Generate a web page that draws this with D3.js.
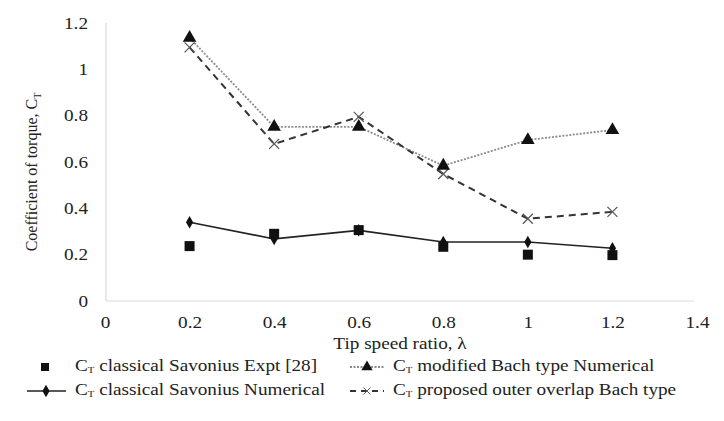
<!DOCTYPE html>
<html><head><meta charset="utf-8">
<script src="https://cdn.jsdelivr.net/npm/d3@7"></script>
<style>body{margin:0;background:#fff}svg{display:block}svg text{font-family:"Liberation Serif","Times New Roman",serif !important;fill:#222}</style>
</head><body><svg id="c" width="724" height="421"></svg>
<script>
const tsr = [0.2, 0.4, 0.6, 0.8, 1.0, 1.2];
const savoniusExpt = [0.237, 0.29, 0.306, 0.234, 0.2, 0.198];
const savoniusNum = [0.34, 0.268, 0.305, 0.255, 0.255, 0.228];
const bachModNum = [1.136, 0.752, 0.752, 0.584, 0.695, 0.738];
const proposedBach = [1.095, 0.678, 0.795, 0.548, 0.355, 0.385];
const xTicks = [0, 0.2, 0.4, 0.6, 0.8, 1, 1.2, 1.4];
const yTicks = [0, 0.2, 0.4, 0.6, 0.8, 1, 1.2];

const svg = d3.select("#c");
const x = d3.scaleLinear().domain([0, 1.4]).range([105, 697]);
const y = d3.scaleLinear().domain([0, 1.2]).range([301, 23]);
const SX = 1.2; // horizontal stretch of the reference's text

// axes
svg.append("line").attr("x1", 106).attr("x2", 106).attr("y1", y(1.2)).attr("y2", y(0)).attr("stroke", "#d9d9d9").attr("stroke-width", 1.2);
svg.append("line").attr("x1", 106).attr("x2", 694).attr("y1", y(0)).attr("y2", y(0)).attr("stroke", "#d9d9d9").attr("stroke-width", 1.2);

const fmt = d => String(+d.toFixed(1));
const ya = svg.append("g").attr("transform", "translate(88,0)").call(d3.axisLeft(y).tickValues(yTicks).tickSize(0).tickPadding(0).tickFormat(fmt));
ya.select(".domain").remove();
ya.selectAll("text").attr("font-size", 16).attr("fill", "#333").attr("transform", `scale(${SX},1)`);

const xa = svg.append("g").attr("transform", "translate(0,317)").call(d3.axisBottom(x).tickValues(xTicks).tickSize(0).tickPadding(0).tickFormat(fmt));
xa.select(".domain").remove();
xa.selectAll("text").attr("font-size", 16).attr("fill", "#333").attr("transform", `scale(${SX},1)`);

// axis titles
svg.append("g").attr("transform", `translate(400,349) scale(${SX},1)`)
  .append("text").attr("text-anchor", "middle").attr("font-size", 16).text("Tip speed ratio, λ");
const yt = svg.append("text").attr("transform", "translate(37,172) rotate(-90)").attr("text-anchor", "middle").attr("font-size", 16);
yt.append("tspan").text("Coefficient of torque, C");
yt.append("tspan").attr("font-size", 10).attr("dy", 4).text("T");

const line = d3.line().x(d => x(d[0])).y(d => y(d[1]));
const pts = arr => tsr.map((t, i) => [t, arr[i]]);

// series lines
svg.append("path").datum(pts(bachModNum)).attr("d", line).attr("fill", "none").attr("stroke", "#8c8c8c").attr("stroke-width", 1.8).attr("stroke-dasharray", "2,1.5");
svg.append("path").datum(pts(proposedBach)).attr("d", line).attr("fill", "none").attr("stroke", "#333").attr("stroke-width", 2).attr("stroke-dasharray", "7,5");
svg.append("path").datum(pts(savoniusNum)).attr("d", line).attr("fill", "none").attr("stroke", "#222").attr("stroke-width", 1.6);

const tri = d3.symbol().type(d3.symbolTriangle).size(80);
const sq = d3.symbol().type(d3.symbolSquare).size(100);
const dia = d3.symbol().type(d3.symbolDiamond).size(45);
const cross = "M-5,-5L5,5M-5,5L5,-5";

svg.selectAll(".px").data(pts(proposedBach)).join("path").attr("transform", d => `translate(${x(d[0])},${y(d[1])})`).attr("d", cross).attr("stroke", "#555").attr("stroke-width", 1.2).attr("fill", "none");
svg.selectAll(".pt").data(pts(bachModNum)).join("path").attr("transform", d => `translate(${x(d[0])},${y(d[1])})`).attr("d", tri).attr("fill", "#111");
svg.selectAll(".pd").data(pts(savoniusNum)).join("path").attr("transform", d => `translate(${x(d[0])},${y(d[1])})`).attr("d", dia).attr("fill", "#111");
svg.selectAll(".ps").data(pts(savoniusExpt)).join("path").attr("transform", d => `translate(${x(d[0])},${y(d[1])})`).attr("d", sq).attr("fill", "#111");

// legend
function legText(xx, yy, label) {
  const t = svg.append("g").attr("transform", `translate(${xx},${yy}) scale(${SX},1)`)
    .append("text").attr("font-size", 16).attr("dominant-baseline", "middle");
  t.append("tspan").text("C");
  t.append("tspan").attr("font-size", 9).attr("dy", 4).text("T");
  t.append("tspan").attr("dy", -4).text(" " + label);
}
const r1 = 367, r2 = 391;
svg.append("path").attr("transform", `translate(45,${r1})`).attr("d", d3.symbol().type(d3.symbolSquare).size(64)).attr("fill", "#111");
legText(75, r1, "classical Savonius Expt [28]");
svg.append("line").attr("x1", 27).attr("x2", 66).attr("y1", r2).attr("y2", r2).attr("stroke", "#222").attr("stroke-width", 1.6);
svg.append("path").attr("transform", `translate(46,${r2})`).attr("d", dia).attr("fill", "#111");
legText(75, r2, "classical Savonius Numerical");

svg.append("line").attr("x1", 350).attr("x2", 384).attr("y1", r1).attr("y2", r1).attr("stroke", "#8c8c8c").attr("stroke-width", 1.8).attr("stroke-dasharray", "2,1.5");
svg.append("path").attr("transform", `translate(367,${r1})`).attr("d", d3.symbol().type(d3.symbolTriangle).size(55)).attr("fill", "#111");
legText(393, r1, "modified Bach type Numerical");
svg.append("line").attr("x1", 350).attr("x2", 384).attr("y1", r2).attr("y2", r2).attr("stroke", "#333").attr("stroke-width", 2).attr("stroke-dasharray", "6,5");
svg.append("path").attr("transform", `translate(367,${r2}) scale(0.7)`).attr("d", cross).attr("stroke", "#555").attr("stroke-width", 1.4).attr("fill", "none");
legText(393, r2, "proposed outer overlap Bach type");
</script></body></html>
